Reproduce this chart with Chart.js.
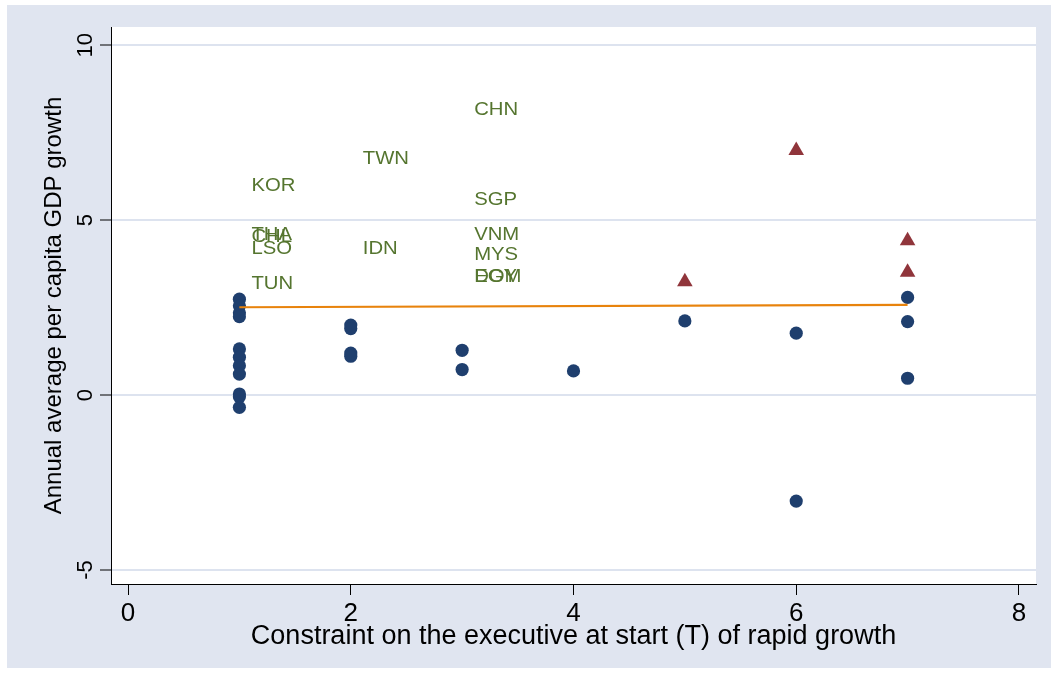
<!DOCTYPE html>
<html>
<head>
<meta charset="utf-8">
<script src="https://cdn.jsdelivr.net/npm/chart.js@4.4.1/dist/chart.umd.min.js"></script>
<style>
  html, body { margin: 0; padding: 0; background: #ffffff; }
  #wrap { width: 1051px; height: 673px; }
</style>
</head>
<body>
<div id="wrap"><canvas id="c" width="1051" height="673"></canvas></div>
<script>
// Constraint on the executive at the start of rapid growth (x)
// against annual average per capita GDP growth (y)

// episodes drawn as navy circles
const circleX = [1, 1, 1, 1, 1, 1, 1, 1, 1, 1, 1, 2, 2, 2, 2, 3, 3, 4, 5, 6, 6, 7, 7, 7];
const circleY = [2.74, 2.55, 2.35, 2.24, 1.32, 1.08, 0.84, 0.60, 0.03, -0.05, -0.35,
                 2.00, 1.90, 1.20, 1.11, 1.28, 0.73, 0.69, 2.12, 1.77, -3.03, 2.79, 2.10, 0.48];

// episodes drawn as maroon triangles
const triangleX = [5, 6, 7, 7];
const triangleY = [3.24, 6.99, 4.41, 3.51];

// labelled countries (text only)
const labelCodes = ['KOR', 'THA', 'CHL', 'LSO', 'TUN', 'TWN', 'IDN', 'CHN', 'SGP', 'VNM', 'MYS', 'EGY', 'DOM'];
const labelX = [1, 1, 1, 1, 1, 2, 2, 3, 3, 3, 3, 3, 3];
const labelY = [5.98, 4.56, 4.52, 4.18, 3.16, 6.74, 4.18, 8.15, 5.56, 4.56, 4.01, 3.37, 3.37];

// fitted line
const fitX = [1, 7];
const fitY = [2.51, 2.58];

// axis ticks
const xTicks = [0, 2, 4, 6, 8];
const yTicks = [-5, 0, 5, 10];

const FONT = 'Liberation Sans, Arial, sans-serif';
const NAVY = '#1f3f6e';
const MAROON = '#90353b';
const ORANGE = '#e8830c';
const GREEN = '#55752f';
const BG = '#e0e5f0';

const pairs = (xs, ys) => xs.map((x, i) => ({ x: x, y: ys[i] }));

// graph region and white plot region
const backdrop = {
  id: 'backdrop',
  beforeDraw(chart) {
    const ctx = chart.ctx;
    const a = chart.chartArea;
    ctx.save();
    ctx.fillStyle = '#ffffff';
    ctx.fillRect(0, 0, chart.width, chart.height);
    ctx.fillStyle = BG;
    ctx.fillRect(7, 5, chart.width - 7, 663);
    ctx.fillStyle = '#ffffff';
    ctx.fillRect(a.left, a.top, a.right - a.left, a.bottom - a.top);
    ctx.restore();
  }
};

// country codes written to the right of their (invisible) points
const codeLabels = {
  id: 'codeLabels',
  afterDatasetsDraw(chart) {
    const idx = chart.data.datasets.findIndex(d => d.id === 'codes');
    const meta = chart.getDatasetMeta(idx);
    const ctx = chart.ctx;
    ctx.save();
    ctx.font = '17.5px ' + FONT;
    ctx.fillStyle = GREEN;
    ctx.textAlign = 'left';
    ctx.textBaseline = 'middle';
    meta.data.forEach((pt, i) => {
      ctx.save();
      ctx.translate(pt.x + 12, pt.y);
      ctx.scale(1.16, 1);
      ctx.fillText(labelCodes[i], 0, 0);
      ctx.restore();
    });
    ctx.restore();
  }
};

new Chart(document.getElementById('c'), {
  type: 'scatter',
  data: {
    datasets: [
      {
        id: 'fit',
        type: 'line',
        data: pairs(fitX, fitY),
        borderColor: ORANGE,
        borderWidth: 2.2,
        pointRadius: 0,
        showLine: true,
        fill: false,
        order: 0
      },
      {
        id: 'circles',
        data: pairs(circleX, circleY),
        pointStyle: 'circle',
        pointRadius: 6.6,
        backgroundColor: NAVY,
        borderColor: NAVY,
        borderWidth: 0,
        order: 1
      },
      {
        id: 'triangles',
        data: pairs(triangleX, triangleY),
        pointStyle: 'triangle',
        pointRadius: 9,
        backgroundColor: MAROON,
        borderColor: MAROON,
        borderWidth: 0,
        order: 2
      },
      {
        id: 'codes',
        data: pairs(labelX, labelY),
        pointRadius: 0,
        order: 3
      }
    ]
  },
  options: {
    responsive: false,
    animation: false,
    devicePixelRatio: 1,
    layout: { padding: { top: 27, right: 15, left: 0, bottom: 0 } },
    plugins: { legend: { display: false }, tooltip: { enabled: false } },
    scales: {
      x: {
        type: 'linear',
        min: -0.153,
        max: 8.153,
        afterBuildTicks: s => { s.ticks = xTicks.map(v => ({ value: v })); },
        afterFit: s => { s.height = 89; },
        grid: { drawOnChartArea: false, drawTicks: true, tickLength: 11, tickColor: '#000', tickWidth: 1 },
        border: { display: true, color: '#000', width: 1 },
        ticks: {
          color: '#000',
          font: { family: FONT, size: 26 },
          padding: 3,
          minRotation: 0,
          maxRotation: 0,
          autoSkip: false,
          callback: v => String(v)
        },
        title: {
          display: true,
          text: 'Constraint on the executive at start (T) of rapid growth',
          color: '#000',
          font: { family: FONT, size: 27 },
          padding: { top: 0, bottom: 20 }
        }
      },
      y: {
        type: 'linear',
        min: -5.4,
        max: 10.52,
        afterBuildTicks: s => { s.ticks = yTicks.map(v => ({ value: v })); },
        afterFit: s => { s.width = 111; },
        grid: { color: '#dde3ef', lineWidth: 2, drawTicks: true, tickLength: 11, tickColor: '#000', tickWidth: 1 },
        border: { display: true, color: '#000', width: 1 },
        ticks: {
          color: '#000',
          font: { family: FONT, size: 22 },
          padding: 2,
          minRotation: 90,
          maxRotation: 90,
          crossAlign: 'center',
          autoSkip: false,
          callback: v => String(v)
        },
        title: {
          display: true,
          text: 'Annual average per capita GDP growth',
          color: '#000',
          font: { family: FONT, size: 24 },
          padding: { top: 40, bottom: 0 }
        }
      }
    }
  },
  plugins: [backdrop, codeLabels]
});
</script>
</body>
</html>
